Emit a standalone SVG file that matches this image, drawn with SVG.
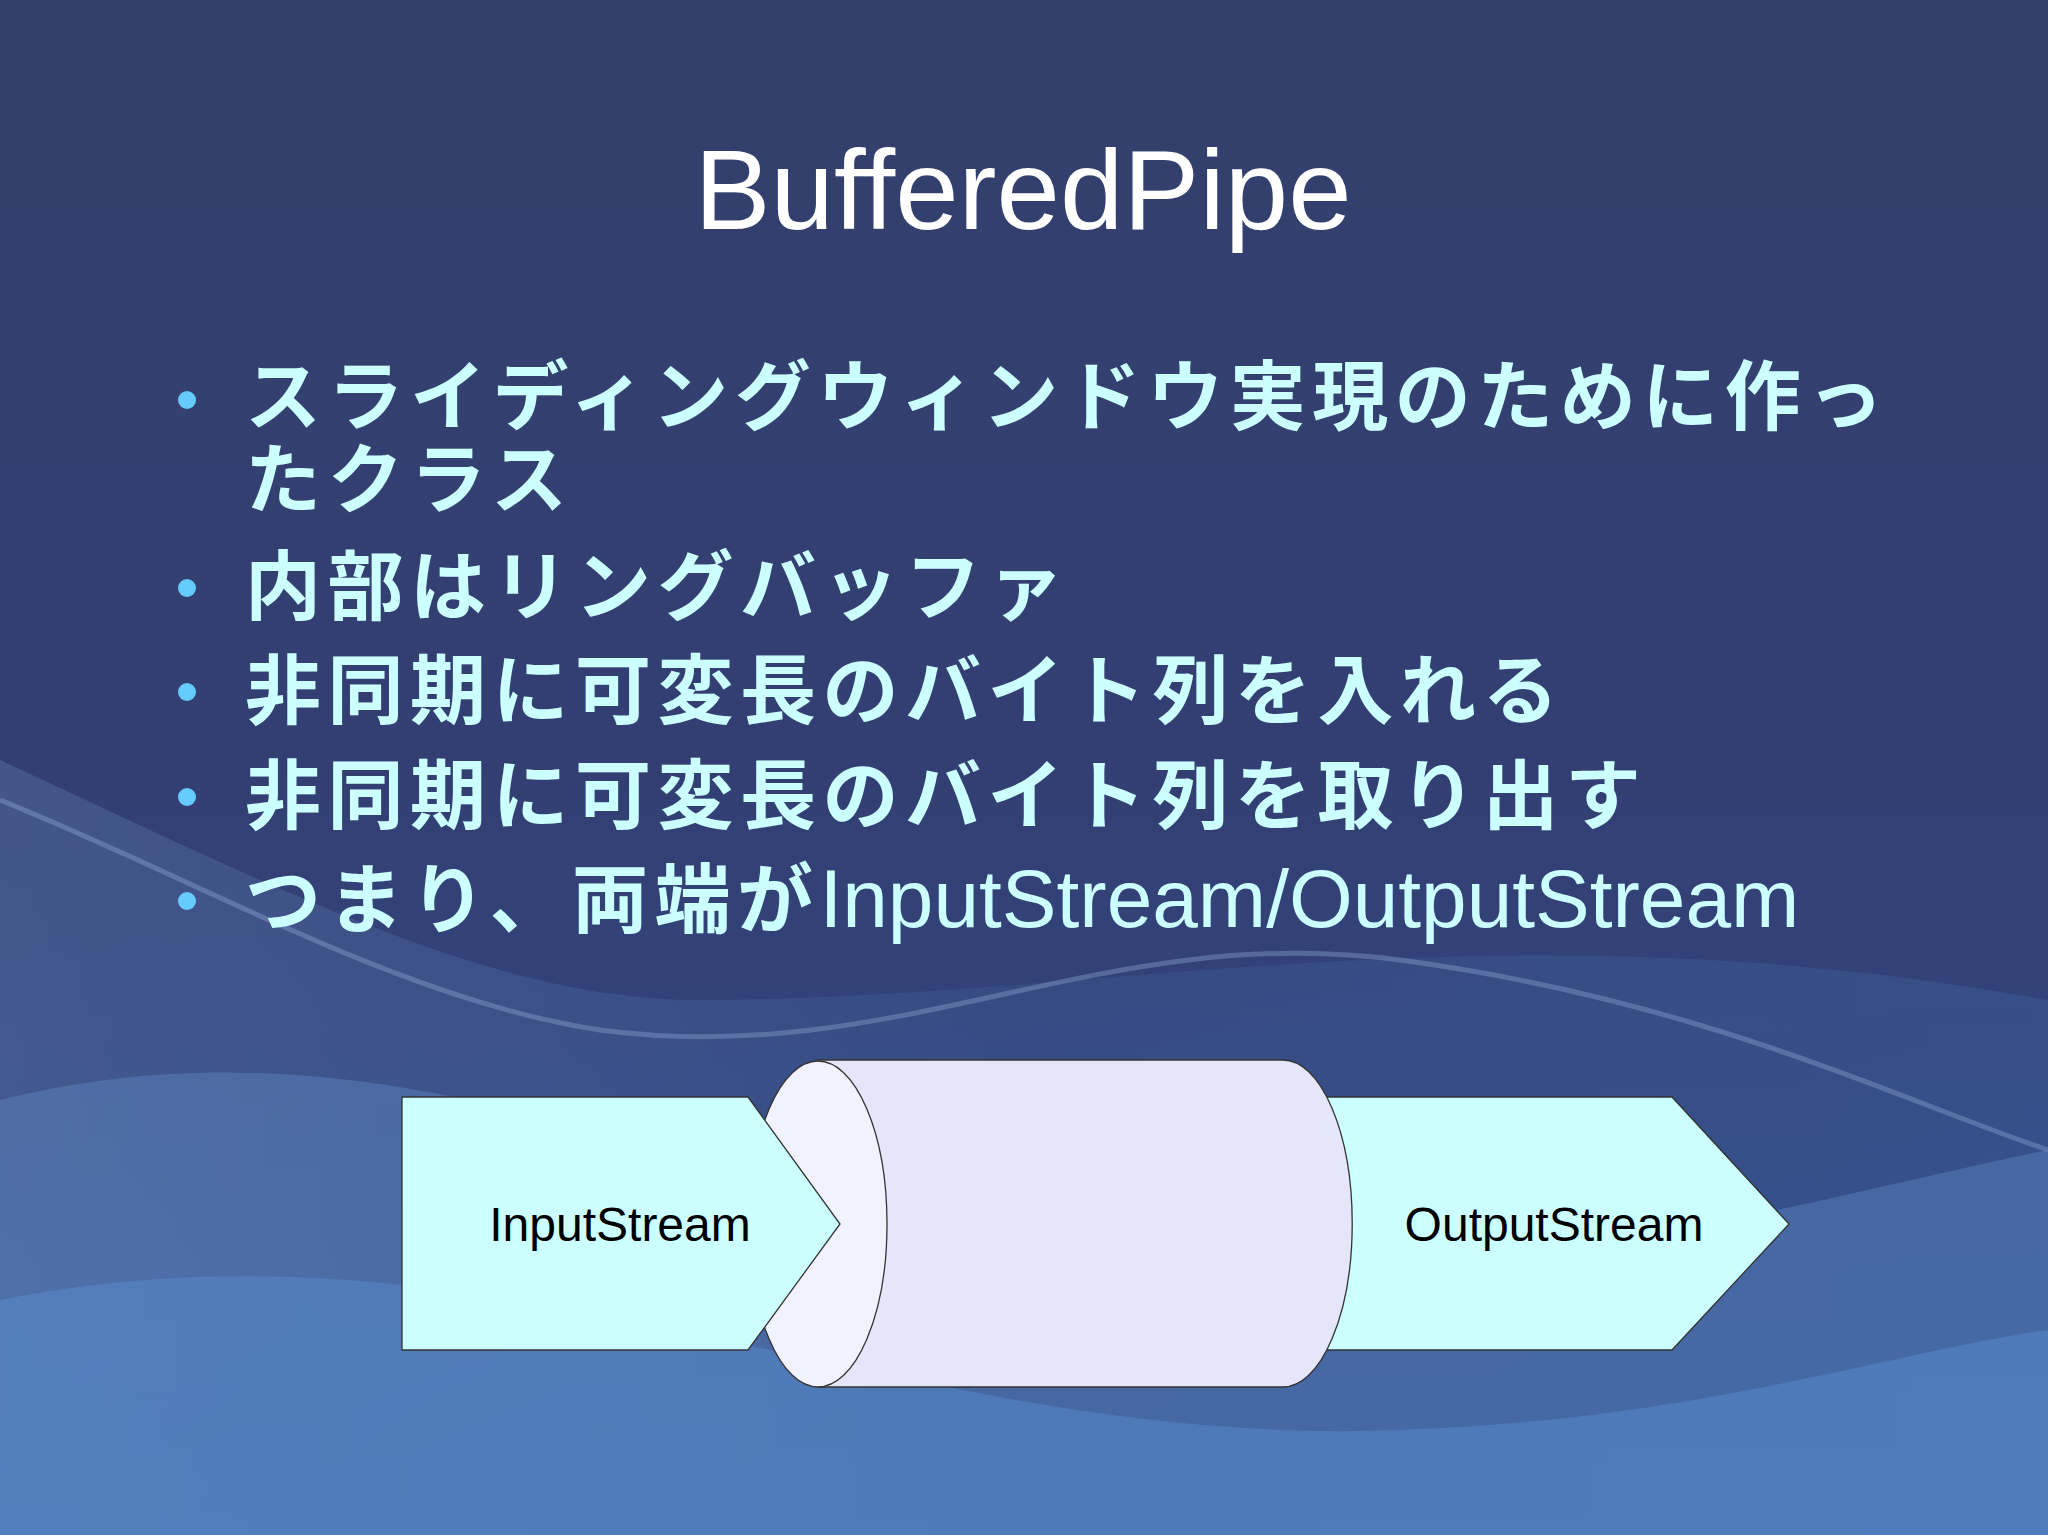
<svg xmlns="http://www.w3.org/2000/svg" width="2048" height="1535" viewBox="0 0 2048 1535">
<defs>
<linearGradient id="bg" x1="0" y1="0" x2="0" y2="1">
<stop offset="0" stop-color="#33406c"/><stop offset="0.5" stop-color="#333f73"/><stop offset="1" stop-color="#2f4a86"/>
</linearGradient>
<linearGradient id="sw" x1="0" y1="0" x2="1" y2="0">
<stop offset="0" stop-color="#7fa6d8" stop-opacity="0.55"/><stop offset="0.5" stop-color="#5c8ccc" stop-opacity="0.3"/><stop offset="1" stop-color="#4d86cc" stop-opacity="0.45"/>
</linearGradient>
<style>
.t{font-family:"Noto Sans CJK JP","Liberation Sans",sans-serif;font-weight:bold;font-size:76px;fill:#ccffff;letter-spacing:6.5px}
.b{fill:#66ccff}
.s{fill:#ccffff;stroke:#333;stroke-width:1.3}
.l{font-family:"Liberation Sans",Arial,sans-serif;font-size:48px;fill:#000}
</style>
</defs>
<rect width="2048" height="1535" fill="url(#bg)"/>
<g id="background">
<path d="M0 760 C300 900 500 1000 700 1000 C1100 1000 1500 900 2048 1000 L2048 1535 L0 1535 Z" fill="url(#sw)" opacity="0.4"/>
<path d="M0 1100 C400 1000 700 1200 1100 1250 C1500 1300 1800 1200 2048 1150 L2048 1535 L0 1535 Z" fill="#6d9fdc" opacity="0.3"/>
<path d="M0 1300 C500 1200 900 1450 1400 1430 C1700 1420 1900 1350 2048 1330 L2048 1535 L0 1535 Z" fill="#5f9ae0" opacity="0.35"/>
<path d="M0 800 C200 880 400 1000 600 1030 C900 1070 1100 920 1400 960 C1700 1000 1900 1100 2048 1150" fill="none" stroke="#a8c4ec" stroke-width="5" opacity="0.3"/>
</g>
<text x="1023" y="229" text-anchor="middle" font-family="Liberation Sans,Arial,sans-serif" font-size="114" fill="#ffffff">BufferedPipe</text>
<g id="bullets">
<circle class="b" cx="187" cy="400" r="9"/>
<circle class="b" cx="187" cy="588" r="9"/>
<circle class="b" cx="187" cy="692" r="9"/>
<circle class="b" cx="187" cy="797" r="9"/>
<circle class="b" cx="187" cy="901" r="9"/>
<text class="t" x="245" y="424">スライディングウィンドウ実現のために作っ</text>
<text class="t" x="245" y="507">たクラス</text>
<text class="t" x="245" y="614">内部はリングバッファ</text>
<text class="t" x="245" y="718">非同期に可変長のバイト列を入れる</text>
<text class="t" x="245" y="823">非同期に可変長のバイト列を取り出す</text>
<text class="t" x="245" y="927">つまり、両端が<tspan font-family="Liberation Sans,Arial,sans-serif" font-weight="normal" font-size="82" letter-spacing="0">InputStream/OutputStream</tspan></text>
</g>
<g id="output">
<path class="s" d="M1319 1097 L1672 1097 L1789 1224 L1672 1350 L1319 1350 Z"/>
<text class="l" x="1554" y="1241" text-anchor="middle">OutputStream</text>
</g>
<g id="pipe">
<path d="M818 1060 L1283 1060 A69 163 0 0 1 1283 1387 L818 1387 Z" fill="#e6e6fb" stroke="#333" stroke-width="1.3"/>
<ellipse cx="818" cy="1224" rx="69" ry="163" fill="#f2f2ff" stroke="#333" stroke-width="1.3"/>
</g>
<g id="input">
<path class="s" d="M402 1097 L748 1097 L840 1224 L748 1350 L402 1350 Z"/>
<text class="l" x="620" y="1241" text-anchor="middle">InputStream</text>
</g>
</svg>
